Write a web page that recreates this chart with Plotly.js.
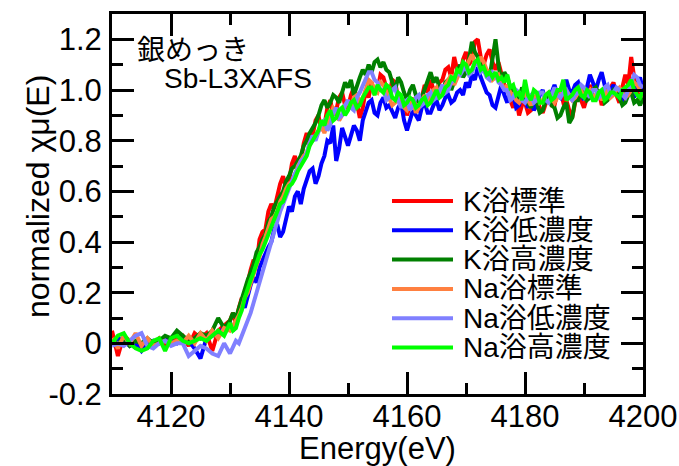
<!DOCTYPE html>
<html>
<head>
<meta charset="utf-8">
<script src="https://cdn.plot.ly/plotly-3.0.1.min.js"></script>
<style>
html,body{margin:0;padding:0;background:#fff;}
#chart{width:679px;height:466px;}
</style>
</head>
<body>
<div id="chart"></div>
<script>
// ---- data ----
const energy = [4110,4111,4112,4113,4114,4115,4116,4117,4118,4119,
4120,4121,4122,4123,4124,4125,4126,4127,4128,4129,
4130,
4130.5,4131,4131.5,4132,4132.5,4133,4133.5,4134,4134.5,4135,
4135.5,4136,4136.5,4137,4137.5,4138,4138.5,4139,4139.5,4140,
4140.5,4141,4141.5,4142,4142.5,4143,4143.5,4144,4144.5,4145,
4145.5,4146,4146.5,4147,4147.5,4148,4148.5,4149,4149.5,4150,
4150.5,4151,4151.5,4152,4152.5,4153,4153.5,4154,4154.5,4155,
4155.5,4156,4156.5,4157,4157.5,4158,4158.5,4159,4159.5,4160,
4160.5,4161,4161.5,4162,4162.5,4163,4163.5,4164,4164.5,4165,
4165.5,4166,4166.5,4167,4167.5,4168,4168.5,4169,4169.5,4170,
4170.5,4171,4171.5,4172,4172.5,4173,4173.5,4174,4174.5,4175,
4175.5,4176,4176.5,4177,4177.5,4178,4178.5,4179,4179.5,4180,
4180.5,4181,4181.5,4182,4182.5,4183,4183.5,4184,4184.5,4185,
4185.5,4186,4186.5,4187,4187.5,4188,4188.5,4189,4189.5,4190,
4190.5,4191,4191.5,4192,4192.5,4193,4193.5,4194,4194.5,4195,
4195.5,4196,4196.5,4197,4197.5,4198,4198.5,4199,4199.5,4200];

const kStandard = [0.05,-0.05,0.03,0.01,0.00,-0.02,0.01,0.00,0.02,-0.01,
0.01,0.02,0.03,-0.01,0.04,0.02,0.04,-0.03,0.05,0.07,
0.09,
0.12,0.08,0.14,0.18,0.16,0.24,0.29,0.33,0.31,0.41,
0.44,0.45,0.52,0.55,0.53,0.58,0.63,0.66,0.61,0.64,
0.71,0.74,0.69,0.72,0.79,0.83,0.78,0.82,0.88,0.90,
0.84,0.86,0.93,0.96,0.90,0.92,0.97,0.99,0.94,0.93,
0.98,1.01,0.95,0.89,0.93,1.00,0.97,1.03,0.99,1.00,
1.06,1.05,1.01,0.98,1.04,1.03,0.97,0.93,0.96,0.90,
0.94,0.97,0.93,0.92,0.97,1.02,0.99,1.04,1.00,0.98,
1.03,1.04,1.08,1.09,1.05,1.13,1.08,1.06,1.12,1.15,
1.10,1.12,1.19,1.20,1.13,1.10,1.14,1.16,1.11,1.08,
1.11,1.06,1.02,1.01,0.96,0.93,0.97,0.90,0.94,0.95,
0.91,0.92,0.96,0.97,0.93,0.91,0.95,0.98,0.94,0.94,
0.99,1.00,0.95,0.96,0.92,0.89,0.95,1.00,0.96,0.93,
0.97,1.02,0.98,0.97,1.00,0.94,0.97,0.99,1.01,1.03,
0.98,0.95,1.01,1.06,1.02,1.13,1.05,0.99,0.96,1.02];

const kLow = [0.00,0.02,0.01,-0.01,0.00,-0.03,0.00,0.01,0.00,0.02,
0.01,0.00,0.02,0.01,-0.02,-0.06,0.02,0.03,0.04,0.06,
0.08,
0.05,0.07,0.12,0.17,0.14,0.19,0.23,0.26,0.24,0.30,
0.33,0.35,0.38,0.40,0.45,0.47,0.42,0.44,0.50,0.54,
0.52,0.58,0.60,0.55,0.61,0.64,0.68,0.69,0.63,0.66,
0.71,0.74,0.80,0.79,0.86,0.72,0.77,0.85,0.81,0.78,
0.82,0.86,0.84,0.80,0.88,0.92,0.95,0.96,0.91,0.90,
0.95,0.97,0.93,0.94,0.91,0.89,0.93,0.95,0.88,0.84,
0.88,0.92,0.90,0.88,0.93,0.95,0.91,0.91,0.94,0.96,
0.92,0.94,0.97,0.98,0.95,0.96,0.99,1.00,0.98,1.03,
1.01,1.06,1.04,1.09,1.05,1.02,0.99,0.98,0.94,0.93,
0.97,1.02,0.98,0.95,1.00,0.98,0.93,0.94,0.99,0.96,
0.93,0.97,0.92,0.94,0.98,1.00,0.95,0.96,0.99,1.02,
0.98,0.97,1.01,1.04,1.00,0.99,1.02,1.03,0.99,0.96,
1.01,1.06,1.03,1.00,1.04,1.07,1.02,0.98,1.00,1.02,
0.99,0.97,0.95,1.01,0.98,1.04,0.97,1.02,1.05,1.00];

const kHigh = [0.01,0.00,0.02,-0.01,0.01,0.00,0.02,0.00,0.01,0.03,
0.02,0.05,0.03,0.01,0.02,0.04,0.03,0.05,0.10,0.06,
0.09,
0.12,0.10,0.14,0.17,0.21,0.25,0.28,0.31,0.36,0.38,
0.41,0.43,0.48,0.50,0.54,0.56,0.58,0.60,0.64,0.66,
0.69,0.70,0.72,0.74,0.78,0.80,0.83,0.85,0.87,0.90,
0.94,0.96,0.93,0.95,0.98,0.97,0.95,0.99,1.03,1.01,
1.04,0.98,1.02,1.05,1.08,1.06,1.10,1.07,1.11,1.12,
1.09,1.11,1.08,1.07,1.03,1.00,1.05,1.03,0.99,0.96,
1.00,1.02,0.98,0.95,0.97,1.00,1.04,1.07,1.03,1.05,
1.01,0.99,1.03,1.04,1.00,1.03,1.06,1.10,1.05,1.07,
1.12,1.19,1.15,1.13,1.10,1.08,1.06,1.05,1.12,1.20,
1.10,1.03,1.07,1.05,1.01,1.00,0.97,0.96,1.01,0.99,
0.95,0.93,0.97,0.95,0.91,0.92,0.96,0.97,0.94,0.93,
0.89,0.90,0.93,0.95,0.87,0.89,0.96,0.96,1.00,1.00,
0.96,0.97,1.00,1.01,0.98,0.99,0.95,0.96,0.98,1.00,
0.99,0.97,0.94,0.95,0.98,0.99,0.95,0.96,0.94,0.97];

const naStandard = [0.02,-0.02,0.03,0.00,0.04,-0.01,0.02,-0.01,0.00,0.01,
0.00,0.01,0.00,0.03,0.00,0.04,0.01,0.05,0.02,0.06,
0.05,
0.07,0.09,0.11,0.14,0.18,0.20,0.24,0.27,0.31,0.34,
0.39,0.42,0.46,0.49,0.50,0.52,0.56,0.58,0.61,0.63,
0.64,0.66,0.70,0.72,0.74,0.75,0.79,0.80,0.82,0.84,
0.86,0.83,0.87,0.89,0.93,0.92,0.88,0.90,0.94,0.95,
0.93,0.97,0.98,0.95,0.97,1.00,1.04,1.03,1.00,0.99,
1.03,1.02,0.99,0.97,0.94,0.95,0.98,0.97,0.93,0.92,
0.95,0.96,0.91,0.93,0.96,0.98,0.95,0.97,1.00,1.01,
0.97,0.99,1.02,1.04,1.06,1.02,1.05,1.07,1.10,1.09,
1.12,1.14,1.11,1.10,1.13,1.11,1.08,1.07,1.04,1.05,
1.06,1.03,1.00,1.02,0.99,0.98,0.96,0.95,0.97,0.99,
0.96,0.94,0.97,0.98,0.95,0.96,0.98,0.99,0.97,0.95,
0.97,0.98,1.01,1.00,0.98,0.96,0.97,0.99,1.00,0.97,
0.99,1.00,0.97,0.98,0.99,0.96,0.98,1.00,0.97,0.98,
1.00,1.01,0.99,0.97,0.98,1.00,1.03,1.02,1.00,0.99];

const naLow = [-0.01,0.00,-0.01,0.01,0.03,0.04,-0.01,-0.02,0.00,0.01,
-0.01,0.00,0.00,-0.05,-0.03,-0.01,-0.02,-0.04,-0.05,0.00,
-0.04,
-0.01,0.01,0.00,0.03,0.05,0.08,0.12,0.16,0.20,0.25,
0.29,0.33,0.36,0.40,0.44,0.48,0.52,0.55,0.58,0.61,
0.65,0.67,0.69,0.72,0.73,0.75,0.79,0.82,0.80,0.84,
0.87,0.88,0.84,0.86,0.91,0.93,0.89,0.90,0.94,0.96,
0.93,0.92,0.97,0.99,1.02,1.05,1.07,1.07,1.04,1.03,
1.00,1.00,0.96,0.97,1.00,1.01,0.96,0.93,0.95,0.96,
0.92,0.94,0.97,0.98,0.94,0.95,0.98,0.99,0.96,0.97,
1.00,1.02,0.99,1.00,1.03,1.04,1.07,1.06,1.08,1.09,
1.06,1.07,1.10,1.11,1.07,1.08,1.05,1.04,1.07,1.06,
1.03,1.02,1.00,1.00,0.96,0.97,1.00,0.99,0.96,0.95,
0.97,0.98,0.95,0.96,0.99,0.99,0.96,0.95,0.98,1.01,
0.98,0.97,0.99,1.00,0.97,0.96,0.98,0.99,1.02,1.01,
0.99,0.97,1.00,1.00,0.97,0.98,1.01,1.02,0.98,0.99,
1.01,1.00,0.98,0.97,1.00,1.03,1.06,1.05,1.02,1.01];

const naHigh = [0.00,0.03,0.04,0.00,-0.02,-0.03,-0.02,0.01,0.02,-0.03,
0.02,0.03,0.01,0.00,0.01,0.02,0.01,0.03,0.05,0.03,
0.08,
0.05,0.06,0.10,0.13,0.18,0.22,0.25,0.28,0.32,0.35,
0.37,0.40,0.44,0.47,0.50,0.53,0.55,0.56,0.59,0.62,
0.63,0.65,0.68,0.70,0.72,0.74,0.78,0.80,0.82,0.84,
0.88,0.86,0.90,0.92,0.88,0.89,0.92,0.93,0.90,0.92,
0.95,0.96,0.93,0.94,0.97,0.99,1.01,1.01,0.98,1.02,
1.00,0.99,1.02,1.01,0.97,0.96,0.99,0.98,0.94,0.95,
0.97,0.96,0.93,0.94,0.96,0.97,0.94,0.95,0.98,1.00,
0.97,0.98,1.01,1.02,1.05,1.04,1.08,1.07,1.11,1.10,
1.07,1.08,1.11,1.12,1.08,1.09,1.06,1.07,1.05,1.07,
1.04,1.05,1.03,1.06,1.01,1.02,0.98,0.99,0.96,1.04,
0.98,0.96,1.00,0.99,0.95,0.95,0.98,0.99,0.96,0.97,
1.00,1.00,1.04,0.96,0.97,0.98,1.00,1.01,0.98,0.97,
1.00,0.99,0.96,0.96,0.99,1.00,0.96,0.97,0.99,0.99,
0.98,0.97,1.00,1.01,1.02,1.04,1.00,0.98,0.97,1.00];

const seriesNames = ['K浴標準','K浴低濃度','K浴高濃度','Na浴標準','Na浴低濃度','Na浴高濃度'];
const seriesValues = [kStandard,kLow,kHigh,naStandard,naLow,naHigh];
const seriesColors = ['#ff0000','#0000ff','#008000','#ff8040','#8080ff','#00ff00'];

const xTickVals = [4120,4140,4160,4180,4200];
const xMinorVals = [4110,4130,4150,4170,4190];
const yTickVals = [-0.2,0,0.2,0.4,0.6,0.8,1.0,1.2];
const yTickText = ['-0.2','0','0.2','0.4','0.6','0.8','1.0','1.2'];
const yMinorVals = [-0.1,0.1,0.3,0.5,0.7,0.9,1.1];

const noteLines = ['銀めっき','Sb-L3XAFS'];
const xTitle = 'Energy(eV)';
const yTitle = 'normalized χμ(E)';

// ---- layout geometry ----
const W = 679, H = 466;
const M = {l:112, r:36, t:14, b:72};
const FONT = 'Liberation Sans, Arial, "Noto Sans CJK JP", sans-serif';
const pw = W - M.l - M.r, ph = H - M.t - M.b;
const px2x = p => (p - M.l) / pw;
const py2y = p => (H - M.b - p) / ph;

const traces = seriesNames.map((n,i) => ({
  type:'scatter', mode:'lines', name:n,
  x: energy, y: seriesValues[i],
  line:{color:seriesColors[i], width:4},
  showlegend:false
}));

// manual legend (swatch + label), rows spaced like the reference
const legX0 = 392, legX1 = 453, legTX = 461, legY0 = 201, legDY = 29.3;
const shapes = [], annotations = [];
seriesNames.forEach((n,i) => {
  const yy = py2y(legY0 + i*legDY);
  shapes.push({type:'line', xref:'paper', yref:'paper',
    x0:px2x(legX0), x1:px2x(legX1), y0:yy, y1:yy,
    line:{color:seriesColors[i], width:4}});
  annotations.push({xref:'paper', yref:'paper', x:px2x(legTX), y:yy,
    xanchor:'left', yanchor:'middle', text:n, showarrow:false,
    font:{family:FONT, size:28, color:'#000'}});
});
annotations.push({xref:'paper', yref:'paper', x:px2x(135), y:py2y(51),
  xanchor:'left', yanchor:'middle', text:noteLines[0], showarrow:false,
  font:{family:FONT, size:28, color:'#000'}});
annotations.push({xref:'paper', yref:'paper', x:px2x(162), y:py2y(79),
  xanchor:'left', yanchor:'middle', text:noteLines[1], showarrow:false,
  font:{family:FONT, size:28, color:'#000'}});
// y-axis title, placed where the reference draws it
annotations.push({xref:'paper', yref:'paper', x:px2x(38), y:py2y(197),
  xanchor:'center', yanchor:'middle', textangle:-90, text:yTitle, showarrow:false,
  font:{family:FONT, size:32, color:'#000'}});

const axisCommon = {
  showline:true, linewidth:3, linecolor:'#000', mirror:'ticks',
  ticks:'inside', ticklen:22, tickwidth:3, tickcolor:'#000',
  showgrid:false, zeroline:false,
  tickfont:{family:FONT, size:31, color:'#000'}
};

const layout = {
  width:W, height:H,
  margin:M,
  paper_bgcolor:'#fff', plot_bgcolor:'#fff',
  font:{family:FONT, color:'#000'},
  xaxis: Object.assign({}, axisCommon, {
    range:[4110,4200], tickmode:'array', tickvals:xTickVals,
    ticktext:xTickVals.map(String),
    ticklabelstandoff:-7,
    minor:{tickmode:'array', tickvals:xMinorVals, ticks:'inside', ticklen:11, tickwidth:3, tickcolor:'#000', showgrid:false},
    title:{text:xTitle, font:{family:FONT, size:31, color:'#000'}, standoff:4}
  }),
  yaxis: Object.assign({}, axisCommon, {
    range:[-0.2,1.3], tickmode:'array', tickvals:yTickVals, ticktext:yTickText,
    minor:{tickmode:'array', tickvals:yMinorVals, ticks:'inside', ticklen:11, tickwidth:3, tickcolor:'#000', showgrid:false},
    ticklabelstandoff:1
  }),
  shapes:shapes,
  annotations:annotations
};

Plotly.newPlot('chart', traces, layout, {displayModeBar:false, staticPlot:true});
</script>
</body>
</html>
